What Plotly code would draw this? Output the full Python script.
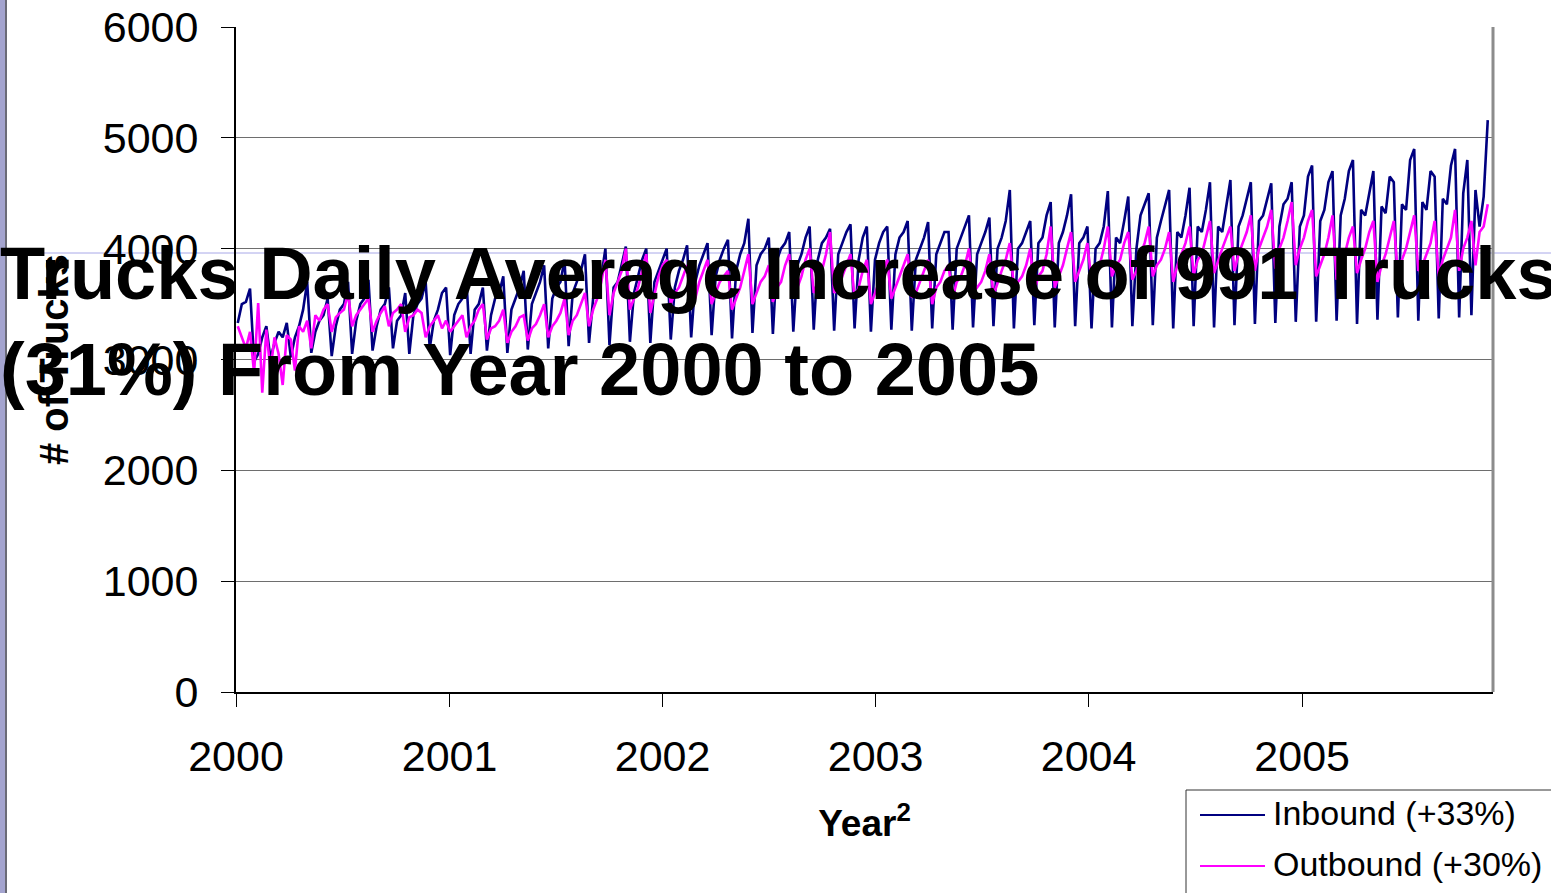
import pandas as pd
import plotly.graph_objects as go

# Weekly daily-average truck counts, one block per calendar year
inbound_2000 = [3330, 3500, 3520, 3640, 2980, 3050, 3200, 3300, 3010, 3150, 3250, 3200, 3330,
                3020, 3200, 3300, 3450, 3700, 3060, 3250, 3350, 3400, 3550, 3030, 3300, 3450,
                3500, 3700, 3050, 3350, 3500, 3550, 3720, 3080, 3300, 3450, 3500, 3650, 3100,
                3350, 3400, 3600, 3050, 3400, 3500, 3550, 3700, 3100, 3350, 3450, 3600, 3650]
inbound_2001 = [3040, 3400, 3500, 3550, 3700, 3050, 3450, 3500, 3650, 3080, 3400, 3550, 3600,
                3750, 3060, 3450, 3550, 3650, 3800, 3090, 3500, 3600, 3700, 3850, 3100, 3550,
                3650, 3700, 3900, 3120, 3600, 3700, 3800, 3950, 3150, 3550, 3600, 3750, 4000,
                3130, 3650, 3700, 3850, 4020, 3160, 3600, 3750, 3900, 4000, 3150, 3700, 3800]
inbound_2002 = [3900, 4000, 3180, 3650, 3800, 3900, 4030, 3200, 3700, 3850, 3950, 4050, 3220,
                3750, 3900, 4000, 4080, 3190, 3800, 3950, 4050, 4270, 3240, 3850, 3950, 4000,
                4100, 3230, 3900, 4000, 4050, 4150, 3250, 3850, 3950, 4100, 4200, 3270, 3900,
                4050, 4100, 4180, 3260, 3950, 4050, 4150, 4220, 3280, 3900, 4100, 4200, 3250]
inbound_2003 = [3900, 4050, 4150, 4200, 3270, 3950, 4100, 4150, 4250, 3260, 3900, 4000, 4100,
                4240, 3280, 3950, 4050, 4150, 4150, 3270, 4000, 4100, 4200, 4300, 3290, 3950,
                4050, 4150, 4280, 3300, 4000, 4100, 4250, 4530, 3280, 4000, 4050, 4150, 4250,
                3310, 4050, 4100, 4300, 4420, 3290, 4050, 4150, 4300, 4490, 3300, 4050, 4100]
inbound_2004 = [4200, 3280, 4000, 4050, 4200, 4520, 3290, 4100, 4050, 4250, 4470, 3300, 4000,
                4300, 4400, 4500, 3310, 4100, 4250, 4400, 4530, 3280, 4150, 4100, 4300, 4550,
                3300, 4200, 4150, 4350, 4600, 3290, 4200, 4150, 4400, 4620, 3310, 4200, 4300,
                4450, 4600, 3320, 4250, 4300, 4450, 4590, 3330, 4200, 4400, 4450, 4600, 3340]
inbound_2005 = [4200, 4300, 4650, 4750, 3340, 4250, 4350, 4600, 4700, 3350, 4300, 4450, 4700,
                4800, 3320, 4350, 4300, 4500, 4700, 3360, 4380, 4320, 4650, 4600, 3380, 4400,
                4350, 4800, 4900, 3350, 4420, 4350, 4700, 4650, 3370, 4450, 4400, 4750, 4900,
                3380, 4500, 4800, 3400, 4530, 4200, 4470, 5160]

outbound_2000 = [3300, 3200, 3100, 3250, 2880, 3510, 2700, 3270, 2900, 3200, 3050, 2770, 3220,
                 3180, 2900, 3300, 3250, 3350, 3100, 3400, 3350, 3450, 3500, 3250, 3380, 3420,
                 3450, 3600, 3300, 3400, 3450, 3500, 3550, 3250, 3350, 3420, 3480, 3300, 3420,
                 3450, 3500, 3250, 3380, 3400, 3450, 3420, 3200, 3300, 3350, 3400, 3280, 3350]
outbound_2001 = [3250, 3300, 3350, 3400, 3200, 3300, 3350, 3450, 3500, 3180, 3280, 3300, 3350,
                 3450, 3150, 3250, 3300, 3380, 3400, 3170, 3280, 3320, 3400, 3500, 3200, 3300,
                 3350, 3420, 3550, 3220, 3350, 3400, 3500, 3600, 3300, 3450, 3550, 3700, 3900,
                 3400, 3600, 3700, 3800, 4000, 3450, 3550, 3650, 3800, 3950, 3420, 3600, 3750]
outbound_2002 = [3850, 3900, 3500, 3600, 3650, 3750, 3850, 3480, 3550, 3700, 3800, 3900, 3500,
                 3600, 3700, 3750, 3800, 3450, 3550, 3650, 3800, 3950, 3500, 3600, 3700, 3750,
                 3850, 3520, 3650, 3700, 3850, 3950, 3550, 3650, 3750, 3900, 4000, 3600, 3700,
                 3800, 3950, 4150, 3600, 3650, 3750, 3850, 3950, 3550, 3650, 3800, 3900, 3500]
outbound_2003 = [3600, 3700, 3800, 3900, 3550, 3650, 3750, 3850, 3950, 3560, 3600, 3700, 3800,
                 3900, 3500, 3650, 3700, 3800, 3850, 3550, 3700, 3750, 3850, 4000, 3600, 3650,
                 3700, 3800, 3950, 3580, 3700, 3800, 3900, 4050, 3650, 3700, 3750, 3850, 4000,
                 3620, 3750, 3800, 3950, 4200, 3650, 3750, 3850, 4000, 4150, 3700, 3800, 3900]
outbound_2004 = [4050, 3700, 3800, 3850, 4000, 4200, 3750, 3850, 3900, 4050, 4150, 3720, 3800,
                 3950, 4050, 4200, 3750, 3850, 3900, 4000, 4150, 3700, 3850, 3950, 4050, 4200,
                 3760, 3900, 3950, 4100, 4250, 3780, 3900, 4000, 4100, 4200, 3800, 3950, 4050,
                 4150, 4300, 3800, 4000, 4100, 4200, 4350, 3820, 4000, 4100, 4250, 4420, 3850]
outbound_2005 = [4000, 4100, 4250, 4350, 3750, 3850, 3950, 4100, 4300, 3720, 3800, 3950, 4100,
                 4200, 3780, 3900, 4000, 4150, 4250, 3700, 3850, 3950, 4100, 4250, 3750, 3900,
                 4000, 4150, 4300, 3800, 3850, 3950, 4050, 4250, 3750, 3900, 4000, 4100, 4350,
                 3800, 4000, 4100, 4250, 3850, 4150, 4200, 4400]

inbound = (inbound_2000 + inbound_2001 + inbound_2002 + inbound_2003
           + inbound_2004 + inbound_2005)
outbound = (outbound_2000 + outbound_2001 + outbound_2002 + outbound_2003
            + outbound_2004 + outbound_2005)

weeks = pd.date_range("2000-01-04", periods=len(inbound), freq="7D")

year_ticks = ["2000", "2001", "2002", "2003", "2004", "2005"]
y_ticks = [0, 1000, 2000, 3000, 4000, 5000, 6000]

legend_labels = ["Inbound (+33%)", "Outbound (+30%)"]
series_colors = ["#000080", "#FF00FF"]

title_lines = ["Trucks Daily Average Increase of 991 Trucks",
               "(31%) From Year 2000 to 2005"]

FONT = "Arial, 'Liberation Sans', sans-serif"

fig = go.Figure()
fig.add_trace(go.Scatter(x=weeks, y=inbound, mode="lines", name=legend_labels[0],
                         line=dict(color=series_colors[0], width=2.6)))
fig.add_trace(go.Scatter(x=weeks, y=outbound, mode="lines", name=legend_labels[1],
                         line=dict(color=series_colors[1], width=2.6)))

# pixel -> paper helpers for the plot box (236..1493 x, 27..692 y)
L, R, T, B = 236, 1493, 27, 692
def px(x):
    return (x - L) / (R - L)
def py(y):
    return (B - y) / (B - T)

shapes = [
    # slide decoration: lavender side bar and rule
    dict(type="rect", xref="paper", yref="paper", x0=px(0), x1=px(5), y0=py(893), y1=py(0),
         fillcolor="#A4A4CF", line=dict(width=0), layer="above"),
    dict(type="line", xref="paper", yref="paper", x0=px(6), x1=px(6), y0=py(893), y1=py(0),
         line=dict(color="#3A3A4A", width=1.5), layer="above"),
    dict(type="line", xref="paper", yref="paper", x0=px(0), x1=px(1551), y0=py(253), y1=py(253),
         line=dict(color="#A8A8E8", width=1), layer="below"),
    # plot area right border
    dict(type="line", xref="paper", yref="paper", x0=1, x1=1, y0=0, y1=1,
         line=dict(color="#8C8C8C", width=3), layer="above"),
    # legend box
    dict(type="rect", xref="paper", yref="paper", x0=px(1186), x1=px(1560), y0=py(900), y1=py(790),
         fillcolor="white", line=dict(color="#333333", width=1), layer="above"),
]
annotations = []
for i, (lab, col) in enumerate(zip(legend_labels, series_colors)):
    yy = 815 + 51 * i
    shapes.append(dict(type="line", xref="paper", yref="paper", x0=px(1200), x1=px(1265),
                       y0=py(yy), y1=py(yy), line=dict(color=col, width=2.2), layer="above"))
    annotations.append(dict(text=lab, xref="paper", yref="paper", x=px(1271), y=py(yy - 2),
                            xanchor="left", yanchor="middle", showarrow=False,
                            font=dict(family=FONT, size=34, color="black")))

fig.update_layout(
    width=1551, height=893,
    margin=dict(l=L, r=1551 - R, t=T, b=893 - B, autoexpand=False),
    paper_bgcolor="white", plot_bgcolor="white",
    showlegend=False,
    title=dict(text="<b>" + "<br>".join(title_lines) + "</b>",
               x=0, xref="container", xanchor="left",
               y=0.665, yref="container", yanchor="middle", automargin=False,
               font=dict(family=FONT, size=74, color="black")),
    xaxis=dict(range=["2000-01-01", "2005-11-24"], automargin=False,
               tickvals=[pd.Timestamp(y + "-01-01") for y in year_ticks], ticktext=year_ticks,
               ticks="outside", ticklen=13, tickcolor="black", tickwidth=1,
               showline=True, linecolor="black", linewidth=2, showgrid=False, zeroline=False,
               tickfont=dict(family=FONT, size=43, color="black"),
               ticklabelstandoff=12,
               title=dict(text="<b>Year<sup>2</sup></b>", standoff=32,
                          font=dict(family=FONT, size=37, color="black"))),
    yaxis=dict(range=[0, 6000], tickvals=y_ticks, automargin=False,
               ticks="outside", ticklen=13, tickcolor="black", tickwidth=1,
               showline=True, linecolor="black", linewidth=2,
               showgrid=True, gridcolor="#6E6E6E", gridwidth=1, zeroline=False,
               tickfont=dict(family=FONT, size=43, color="black"),
               ticklabelstandoff=14,
               title=dict(text="<b># of Trucks</b>", standoff=22,
                          font=dict(family=FONT, size=40, color="black"))),
    shapes=shapes,
    annotations=annotations,
    hovermode=False,
)

fig.write_html("out.html", config={"displayModeBar": False})
